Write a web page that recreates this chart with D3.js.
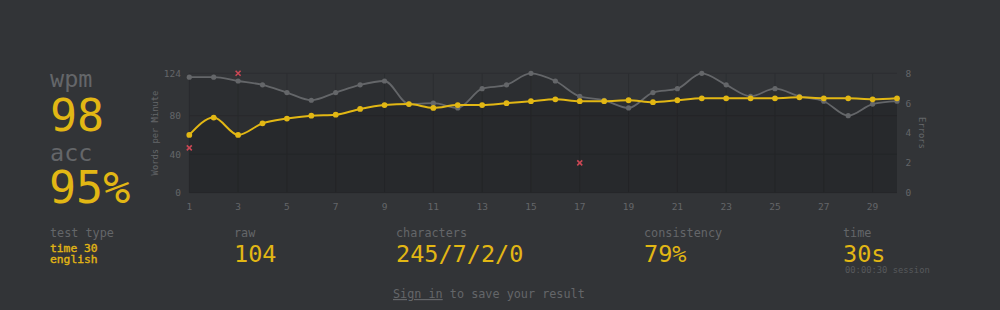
<!DOCTYPE html>
<html><head><meta charset="utf-8">
<script src="https://cdn.jsdelivr.net/npm/d3@7"></script>
<style>
html,body{margin:0;padding:0;background:#323437;overflow:hidden;}
svg{display:block;}
text{font-family:"DejaVu Sans Mono","Liberation Mono",monospace;}
</style></head>
<body>
<svg id="c" width="1000" height="310"></svg>
<script>
// ---- data ----
const seconds = [1,2,3,4,5,6,7,8,9,10,11,12,13,14,15,16,17,18,19,20,21,22,23,24,25,26,27,28,29,30];
const wpmSeries = [60,78,60,72,77,80,81,87,91,92,88,91,91,93,95,97,95,95,96,94,96,98,98,98,98,99,98,98,97,98];
const rawSeries = [120,120,116,112,104,96,104,112,116,92,93,88,108,112,124,116,100,96,88,104,108,124,112,100,108,100,95,80,92,95];
const errorSeconds = [1,3,17];
const errorCounts = [3,8,2];
const wpmTicks = [0,40,80,124];
const errorTicks = [0,2,4,6,8];
const xTicks = [1,3,5,7,9,11,13,15,17,19,21,23,25,27,29];
const statLabels = ["test type","raw","characters","consistency","time"];
const statValues = ["","104","245/7/2/0","79%","30s"];
const testTypeLines = ["time 30","english"];

const MAIN="#e2b714", SUB="#646669", BG="#323437", SUBALT="#2c2e31", ERR="#ca4754";
const svg = d3.select("#c");

const x = d3.scaleLinear().domain([1,30]).range([189.3,897]);
const y = d3.scaleLinear().domain([0,124]).range([192.7,73.3]);
const yErr = d3.scaleLinear().domain([0,8]).range([192.7,73.3]);

// grid
const g = svg.append("g");
g.selectAll("line.v").data(xTicks).join("line")
  .attr("x1",d=>x(d)).attr("x2",d=>x(d)).attr("y1",y(124)).attr("y2",y(0))
  .attr("stroke",SUBALT).attr("stroke-width",1);
g.selectAll("line.h").data(wpmTicks).join("line")
  .attr("x1",x(1)).attr("x2",x(30)).attr("y1",d=>y(d)).attr("y2",d=>y(d))
  .attr("stroke",SUBALT).attr("stroke-width",1);

// fills
const curve = d3.curveMonotoneX;
const area = d3.area().x((d,i)=>x(seconds[i])).y0(y(0)).y1(d=>y(d)).curve(curve);
const line = d3.line().x((d,i)=>x(seconds[i])).y(d=>y(d)).curve(curve);
svg.append("path").attr("d",area(rawSeries)).attr("fill","rgba(0,0,0,0.1)");
svg.append("path").attr("d",area(wpmSeries)).attr("fill","rgba(0,0,0,0.1)");

// raw line
svg.append("path").attr("d",line(rawSeries)).attr("fill","none").attr("stroke",SUB).attr("stroke-width",1.8);
svg.selectAll("circle.raw").data(rawSeries).join("circle")
  .attr("cx",(d,i)=>x(seconds[i])).attr("cy",d=>y(d)).attr("r",2.6).attr("fill",SUB);
// wpm line
svg.append("path").attr("d",line(wpmSeries)).attr("fill","none").attr("stroke",MAIN).attr("stroke-width",2);
svg.selectAll("circle.wpm").data(wpmSeries).join("circle")
  .attr("cx",(d,i)=>x(seconds[i])).attr("cy",d=>y(d)).attr("r",2.9).attr("fill",MAIN);

// errors
const s=2.5;
svg.selectAll("path.err").data(errorCounts).join("path")
  .attr("d",(d,i)=>{const cx=x(errorSeconds[i]), cy=yErr(d);
    return `M${cx-s},${cy-s}L${cx+s},${cy+s}M${cx-s},${cy+s}L${cx+s},${cy-s}`;})
  .attr("stroke",ERR).attr("stroke-width",1.6).attr("fill","none");

// axes labels
svg.selectAll("text.yl").data(wpmTicks).join("text")
  .attr("x",181).attr("y",d=>y(d)+3.4).attr("text-anchor","end")
  .attr("fill",SUB).attr("font-size","9.5px").text(d=>d);
svg.selectAll("text.yr").data(errorTicks).join("text")
  .attr("x",905.5).attr("y",d=>yErr(d)+3.4).attr("text-anchor","start")
  .attr("fill",SUB).attr("font-size","9.5px").text(d=>d);
svg.selectAll("text.xl").data(xTicks).join("text")
  .attr("x",d=>x(d)).attr("y",209.6).attr("text-anchor","middle")
  .attr("fill",SUB).attr("font-size","9.5px").text(d=>d);
svg.append("text").attr("transform","translate(158,133) rotate(-90)")
  .attr("text-anchor","middle").attr("fill",SUB).attr("font-size","8.8px").text("Words per Minute");
svg.append("text").attr("transform","translate(918.5,133) rotate(90)")
  .attr("text-anchor","middle").attr("fill",SUB).attr("font-size","8.8px").text("Errors");

// left big stats
svg.append("text").attr("x",50).attr("y",86.5).attr("fill",SUB).attr("font-size","23.5px").text("wpm");
svg.append("text").attr("x",50).attr("y",131).attr("fill",MAIN).attr("font-size","45px").text("98");
svg.append("text").attr("x",50).attr("y",160.7).attr("fill",SUB).attr("font-size","23.5px").text("acc");
svg.append("text").attr("x",49).attr("y",203.3).attr("fill",MAIN).attr("font-size","45px").text("95%");

// bottom stats
const statX = [50,234,396,644,843];
svg.selectAll("text.sl").data(statLabels).join("text")
  .attr("x",(d,i)=>statX[i]).attr("y",237).attr("fill",SUB).attr("font-size","11.8px").text(d=>d);
svg.selectAll("text.sv").data(statValues).join("text")
  .attr("x",(d,i)=>statX[i]).attr("y",262.3).attr("fill",MAIN).attr("font-size","23.5px").text(d=>d);
svg.selectAll("text.tt").data(testTypeLines).join("text")
  .attr("x",50).attr("y",(d,i)=>251.6+i*11).attr("fill",MAIN).attr("font-size","11.3px")
  .attr("stroke",MAIN).attr("stroke-width",0.35).text(d=>d);
svg.append("text").attr("x",845).attr("y",272.6).attr("fill","#57595c").attr("font-size","8.8px").text("00:00:30 session");

const t = svg.append("text").attr("x",393).attr("y",298).attr("fill",SUB).attr("font-size","11.8px");
t.append("tspan").attr("text-decoration","underline").text("Sign in");
t.append("tspan").text(" to save your result");
</script>
</body></html>
